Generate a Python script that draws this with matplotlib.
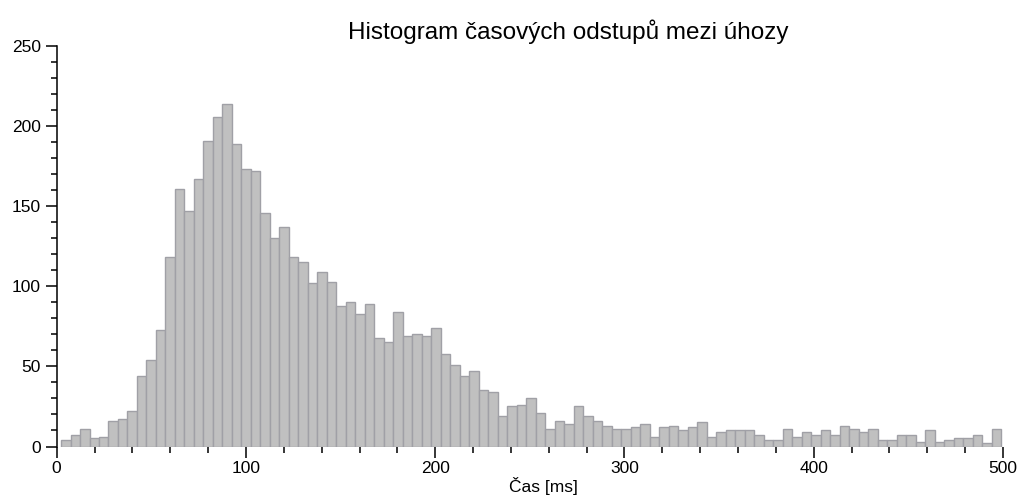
import numpy as np
import matplotlib.pyplot as plt
from matplotlib.ticker import MultipleLocator

plt.rcParams['font.family'] = ['Liberation Sans', 'DejaVu Sans']

# Histogram counts (99 bins, ~5 ms wide)
bin_lo = 2.3
bin_hi = 499.0
counts = [4, 7, 11, 5, 6, 16, 17, 22, 44, 54, 73, 118, 161, 147, 167, 191, 206, 214, 189, 173,
          172, 146, 130, 137, 118, 115, 102, 109, 103, 88, 90, 83, 89, 68, 65, 84, 69, 70, 69, 74,
          58, 51, 44, 47, 35, 34, 19, 25, 26, 30, 21, 11, 16, 14, 25, 19, 16, 13, 11, 11,
          12, 14, 6, 12, 13, 10, 12, 15, 6, 9, 10, 10, 10, 7, 4, 4, 11, 6, 9, 7,
          10, 7, 13, 11, 9, 11, 4, 4, 7, 7, 3, 10, 3, 4, 5, 5, 7, 2, 11]
title = "Histogram časových odstupů mezi úhozy"
xlabel = "Čas [ms]"

edges = np.linspace(bin_lo, bin_hi, len(counts) + 1)

fig = plt.figure(figsize=(10.21, 4.97), dpi=100)
ax = fig.add_axes([0.0555, 0.1016, 0.9269, 0.8058])

ax.bar(edges[:-1], counts, width=np.diff(edges), align='edge',
       color='#c0c0c0', edgecolor='#a0a0a6', linewidth=1.0)

ax.set_xlim(0, 500)
ax.set_ylim(0, 250)
ax.xaxis.set_major_locator(MultipleLocator(100))
ax.xaxis.set_minor_locator(MultipleLocator(20))
ax.yaxis.set_major_locator(MultipleLocator(50))
ax.yaxis.set_minor_locator(MultipleLocator(10))

for side in ['top', 'right', 'bottom']:
    ax.spines[side].set_visible(False)
ax.spines['left'].set_linewidth(1.1)

ax.tick_params(axis='both', which='major', length=7.7, width=1.1, labelsize=12.5)
ax.tick_params(axis='both', which='minor', length=4, width=1.1)
ax.tick_params(axis='x', which='major', pad=3.0)
ax.tick_params(axis='y', which='major', pad=3.5)

fig.text(0.557, 0.9215, title, ha='center', va='baseline', fontsize=17.5)
fig.text(0.532, 0.011, xlabel, ha='center', va='baseline', fontsize=12.5)

fig.savefig('out.png', dpi=100)
